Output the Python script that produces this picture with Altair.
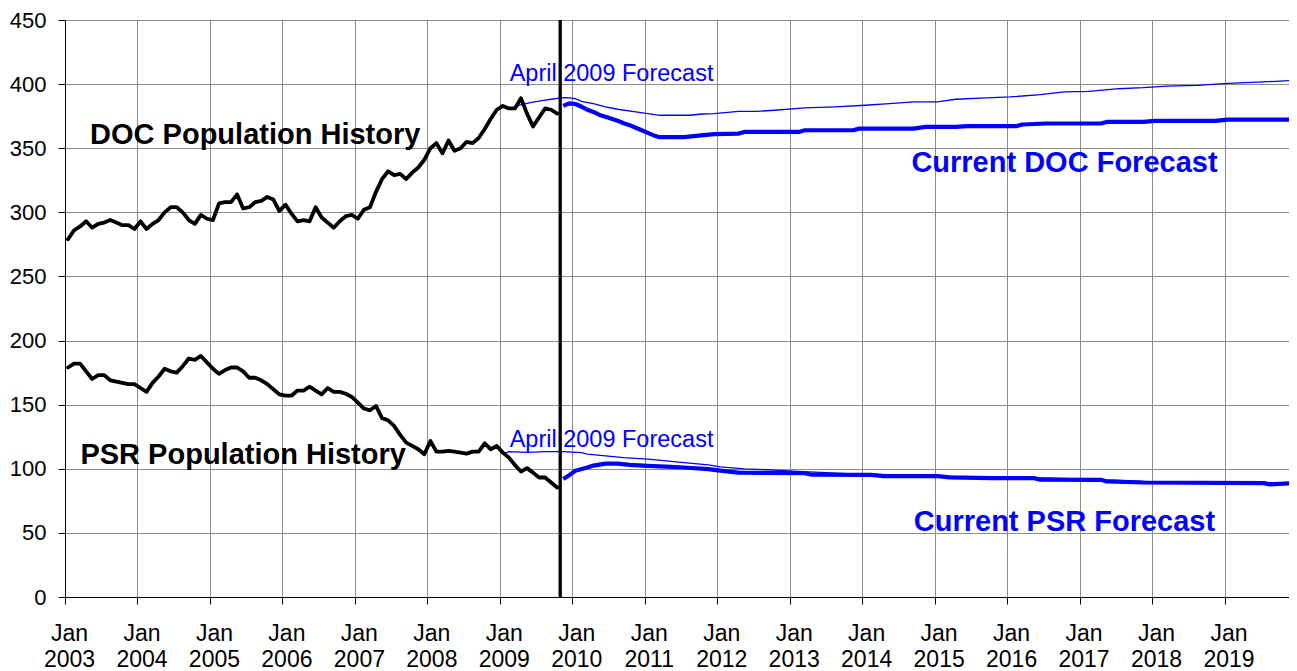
import altair as alt
import pandas as pd

# ---------------- data ----------------
HIST_START = "2003-01"

doc_history = [279, 286, 289, 293, 288, 291, 292, 294, 292, 290,
               290, 287, 293, 287, 291, 294, 300, 304, 304, 300,
               294, 291, 298, 295, 294, 307, 308, 308, 314, 303,
               304, 308, 309, 312, 310, 301, 306, 299, 293, 294,
               293, 304, 296, 292, 288, 293, 297, 298, 295, 302,
               304, 316, 326, 332, 329, 330, 326, 331, 335, 341,
               350, 354, 346, 356, 348, 350, 355, 354, 358, 365,
               373, 380, 383, 381, 381, 389, 377, 367, 374, 381,
               380, 377]

psr_history = [179, 182, 182, 176, 170, 173, 173, 169, 168, 167,
               166, 166, 163, 160, 167, 172, 178, 176, 175, 180,
               186, 185, 188, 183, 178, 174, 177, 179, 179, 176,
               171, 171, 169, 166, 162, 158, 157, 157, 161, 161,
               164, 161, 158, 163, 160, 160, 158.5, 156, 151.5, 147,
               145.6, 149, 139.5, 137.8, 133.4, 126.4, 120.4, 117.8, 115.2, 111.3,
               121.7, 113.4, 113.4, 113.9, 113.4, 112.6, 111.8, 113.4, 113.4, 119.9,
               115.2, 117.8, 112.6, 108.7, 103, 97.8, 100.5, 97, 93.2, 93.2,
               89.3, 85.4]

cur_doc_dates = ["2009-11", "2009-12", "2010-01", "2010-02", "2010-03", "2010-04",
                 "2010-05", "2010-06", "2010-07", "2010-08", "2010-09", "2010-10",
                 "2010-11", "2010-12", "2011-01", "2011-02", "2011-03", "2011-07",
                 "2011-09", "2011-12", "2012-04", "2012-05", "2013-02", "2013-03",
                 "2013-11", "2013-12", "2014-09", "2014-11", "2015-04", "2015-06",
                 "2016-02", "2016-03", "2016-07", "2017-04", "2017-05", "2017-11",
                 "2018-01", "2018-11", "2019-01", "2019-12"]
cur_doc_values = [383, 385, 384.5, 382.5, 380, 378.3,
                  376, 374.5, 373, 371.5, 369.5, 368,
                  366, 364, 362, 360, 358.6, 358.6,
                  359.6, 361, 361.4, 362.7, 362.7, 364,
                  364, 365.3, 365.3, 366.6, 366.6, 367.2,
                  367.2, 368.5, 369.3, 369.3, 370.5, 370.5,
                  371.3, 371.3, 372.3, 372.3]

apr_doc_dates = ["2009-01", "2009-02", "2009-04", "2009-06", "2009-08", "2009-09",
                 "2009-11", "2009-12", "2010-01", "2010-02", "2010-04", "2010-06",
                 "2010-08", "2010-11", "2011-01", "2011-03", "2011-08", "2011-10",
                 "2011-12", "2012-04", "2012-07", "2012-10", "2013-03", "2013-08",
                 "2014-01", "2014-05", "2014-09", "2015-01", "2015-04", "2015-09",
                 "2016-01", "2016-06", "2016-10", "2017-02", "2017-07", "2017-11",
                 "2018-03", "2018-08", "2019-01", "2019-06", "2019-09", "2019-12"]
apr_doc_values = [383.5, 380.5, 384, 386, 387.5, 388.2,
                  389.4, 389.2, 388.7, 386.6, 384.8, 382.2,
                  380.4, 378.3, 377, 375.7, 375.7, 376.7,
                  377, 378.8, 378.8, 379.6, 381.4, 382.2,
                  383.5, 384.8, 386.1, 386.1, 388.2, 389.2,
                  390, 391.8, 393.9, 394.4, 396.4, 397.2,
                  398.5, 399, 400.6, 401.6, 402.2, 403]

cur_psr_dates = ["2009-11", "2009-12", "2010-01", "2010-03", "2010-04", "2010-06",
                 "2010-08", "2010-10", "2011-01", "2011-04", "2011-07", "2011-11",
                 "2012-01", "2012-04", "2013-03", "2013-04", "2014-02", "2014-04",
                 "2015-01", "2015-03", "2015-10", "2016-05", "2016-06", "2017-04",
                 "2017-05", "2017-11", "2019-07", "2019-08", "2019-12"]
cur_psr_values = [92, 95, 98.5, 101, 102.5, 104,
                  104, 103, 102.3, 101.7, 101, 99.7,
                  98.5, 97, 96.5, 95.5, 95.3, 94.3,
                  94.2, 93.3, 92.7, 92.7, 91.5, 91.4,
                  90.2, 89.3, 88.8, 87.8, 88.8]

apr_psr_dates = ["2009-01", "2009-02", "2009-05", "2009-08", "2009-11", "2010-02",
                 "2010-03", "2010-06", "2010-09", "2011-01", "2011-04", "2011-07",
                 "2011-11", "2012-01", "2012-05", "2012-10", "2013-02", "2013-11",
                 "2014-09", "2015-07", "2016-05", "2017-03", "2018-01", "2018-11",
                 "2019-12"]
apr_psr_values = [111.5, 113.4, 112.8, 113.4, 113.4, 112.6,
                  111.5, 110, 108.7, 107.5, 106.1, 104.8,
                  103, 101.5, 100, 99, 98, 96,
                  95, 93.5, 93, 91.8, 89.8, 89.3,
                  89]

FORECAST_START = "2009-11"
year_ticks = list(range(2003, 2020))
y_ticks = list(range(0, 451, 50))

annotations_bold = [
    ("DOC Population History", "2005-08", 353, "black"),
    ("PSR Population History", "2005-06", 104, "black"),
    ("Current DOC Forecast", "2016-10", 331.7, "#0000ff"),
    ("Current PSR Forecast", "2016-10", 51.7, "#0000ff"),
]
annotations_thin = [
    ("April 2009 Forecast", "2010-07", 402.2, "#0000ff"),
    ("April 2009 Forecast", "2010-07", 117.3, "#0000ff"),
]

# visible month range of the x axis (window is narrower than the original page)
X_DOMAIN_END = 202.68


# ---------------- helpers ----------------
def month_index(s, mid=True):
    y, m = s.split("-")
    v = (int(y) - 2003) * 12 + (int(m) - 1)
    return v + 0.5 if mid else v


def series_frame(name, dates, values):
    return pd.DataFrame({"x": [month_index(d) for d in dates], "v": values, "series": name})


def history_frame(name, values):
    start = month_index(HIST_START)
    return pd.DataFrame({"x": [start + i for i in range(len(values))], "v": values, "series": name})


hist_df = pd.concat([history_frame("DOC", doc_history), history_frame("PSR", psr_history)])
cur_df = pd.concat([series_frame("DOC", cur_doc_dates, cur_doc_values),
                    series_frame("PSR", cur_psr_dates, cur_psr_values)])
apr_df = pd.concat([series_frame("DOC", apr_doc_dates, apr_doc_values),
                    series_frame("PSR", apr_psr_dates, apr_psr_values)])
rule_df = pd.DataFrame({"x": [month_index(FORECAST_START, mid=False)], "y0": [0], "y1": [450]})

bold_df = pd.DataFrame([{"text": t, "x": month_index(d), "v": v, "c": c} for t, d, v, c in annotations_bold])
thin_df = pd.DataFrame([{"text": t, "x": month_index(d), "v": v, "c": c} for t, d, v, c in annotations_thin])

x_tick_values = [(y - 2003) * 12 for y in year_ticks]

X = alt.X("x:Q",
          scale=alt.Scale(domain=[0, X_DOMAIN_END], nice=False, zero=False),
          axis=alt.Axis(values=x_tick_values, title=None,
                        labelExpr="['Jan', '' + (2003 + datum.value / 12)]",
                        labelFontSize=23, labelLineHeight=26.7, labelPadding=18,
                        labelOffset=4, labelFlush=False, labelOverlap=False,
                        labelBaseline="top"))
Y = alt.Y("v:Q",
          scale=alt.Scale(domain=[0, 450], nice=False),
          axis=alt.Axis(values=y_ticks, title=None, labelFontSize=22, labelPadding=12))

apr_lines = alt.Chart(apr_df).mark_line(color="#0000ff", strokeWidth=1.3, clip=True).encode(
    x=X, y=Y, detail="series:N")
hist_lines = alt.Chart(hist_df).mark_line(color="black", strokeWidth=3.8, strokeJoin="round",
                                          strokeCap="round", clip=True).encode(
    x=X, y=Y, detail="series:N")
cur_lines = alt.Chart(cur_df).mark_line(color="#0000ff", strokeWidth=4.2, strokeJoin="round",
                                        clip=True).encode(
    x=X, y=Y, detail="series:N")
rule = alt.Chart(rule_df).mark_rule(color="black", strokeWidth=3.3).encode(
    x="x:Q", y="y0:Q", y2="y1:Q")

bold_text = alt.Chart(bold_df).mark_text(
    align="center", baseline="alphabetic", font="Liberation Sans",
    fontSize=29, fontWeight="bold").encode(
    x="x:Q", y="v:Q", text="text:N", color=alt.Color("c:N", scale=None))
thin_text = alt.Chart(thin_df).mark_text(
    align="center", baseline="alphabetic", font="Liberation Sans",
    fontSize=23.5).encode(
    x="x:Q", y="v:Q", text="text:N", color=alt.Color("c:N", scale=None))

chart = alt.layer(apr_lines, hist_lines, cur_lines, rule, bold_text, thin_text).properties(
    width=1224, height=577,
    autosize=alt.AutoSizeParams(type="none"),
    padding={"left": 57, "top": 12, "right": 0, "bottom": 75},
    background="white",
).configure_view(stroke=None).configure_axis(
    labelFont="Liberation Sans", labelColor="black",
    gridColor="#8c8c8c", gridWidth=1, grid=True,
    domainColor="black", domainWidth=1,
    tickColor="black", tickSize=7, tickWidth=1,
)

chart.save("out.html", embed_options={"renderer": "svg", "actions": False})
